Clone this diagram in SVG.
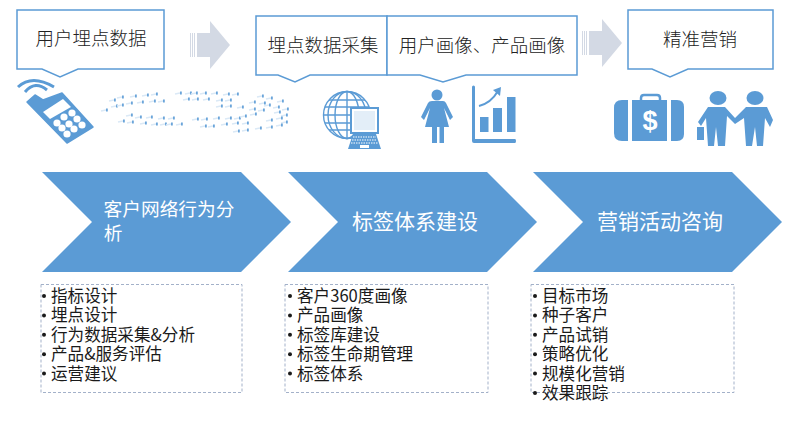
<svg xmlns="http://www.w3.org/2000/svg" xmlns:xlink="http://www.w3.org/1999/xlink" width="800" height="429" viewBox="0 0 800 429">
<style>
text{font-family:"Noto Sans CJK SC","Liberation Sans",sans-serif}
.call{fill:#fff;stroke:#5b9bd5;stroke-width:1.5}
.ct{font-size:18.5px;fill:#222;text-anchor:middle;font-weight:300}
.chev{fill:#5b9bd5}
.cht{fill:#fff;text-anchor:middle}
.dash{fill:#fff;stroke:#a3b1c9;stroke-width:1;stroke-dasharray:3 2}
.li{font-size:16.6px;fill:#1a1a1a}
.ic{fill:#5b9bd5}
.arr{fill:#d3d9e4}
.stripe{stroke:#d3d9e4;stroke-width:1}
.w{fill:#fff}
.gl{fill:none;stroke:#5b9bd5;stroke-width:1.4}
</style>
<defs>
<g id="nd"><path d="M-6 1 L-1 0" stroke="#dbe9f6" stroke-width="1.600" fill="none"/><rect x="-1" y="-1.500" width="1.800" height="3" fill="#6ba5da"/></g>
<g id="bigarrow"><path class="arr" d="M7 12H20V0L40 24L20 48V36H7Z"/><path class="stripe" d="M0.5 12V36M2.5 12V36M4.5 12V36"/></g>
<filter id="soft" x="-5%" y="-10%" width="110%" height="120%"><feGaussianBlur stdDeviation="0.4"/></filter>
</defs>

<g id="connectors">
<use href="#bigarrow" x="190" y="21"/>
<use href="#bigarrow" x="582" y="19"/>
</g>

<g id="node-user-data">
<path class="call" d="M17 10H164V69H78L60 77L42 69H17Z"/>
<text class="ct" x="91" y="45">用户埋点数据</text>
</g>
<g id="node-collect">
<path class="call" d="M256 16H387V75H310L295 82L278 75H256Z"/>
<text class="ct" x="323" y="52">埋点数据采集</text>
</g>
<g id="node-portrait">
<path class="call" d="M387 16H577V75H466L443 82L420 75H387Z"/>
<text class="ct" x="482" y="52">用户画像、产品画像</text>
</g>
<g id="node-marketing">
<path class="call" d="M628 10H773V69H688L670 77L652 69H628Z"/>
<text class="ct" x="700" y="46">精准营销</text>
</g>

<g id="icon-phone">
<path class="ic" d="M27 102L35 95L43 100L62 93L93 127L67 143Z" stroke="#5b9bd5" stroke-width="1.500" stroke-linejoin="round"/>
<path class="w" d="M43 112L63 99L71 107L50 119Z"/>
<g class="w"><circle cx="57" cy="123" r="3.600"/><circle cx="64" cy="117" r="3.600"/><circle cx="72" cy="113" r="3.600"/><circle cx="62" cy="128" r="3.600"/><circle cx="69" cy="124" r="3.600"/><circle cx="77" cy="119" r="3.600"/><circle cx="67" cy="134" r="3.600"/><circle cx="74" cy="129" r="3.600"/><circle cx="82" cy="125" r="3.600"/></g>
<path d="M18 87Q32 74 54 87" fill="none" stroke="#5b9bd5" stroke-width="3"/>
<path d="M25 92Q35 80 47 90" fill="none" stroke="#5b9bd5" stroke-width="3"/>
</g>

<g id="network" filter="url(#soft)">
<use href="#nd" x="115" y="100"/><use href="#nd" x="123" y="97"/><use href="#nd" x="136" y="96"/><use href="#nd" x="148" y="95"/><use href="#nd" x="157" y="94"/><use href="#nd" x="107" y="110"/><use href="#nd" x="117" y="106"/><use href="#nd" x="132" y="103"/><use href="#nd" x="123" y="105"/><use href="#nd" x="143" y="102"/><use href="#nd" x="155" y="101"/><use href="#nd" x="164" y="101"/><use href="#nd" x="181" y="93"/><use href="#nd" x="191" y="93"/><use href="#nd" x="197" y="93"/><use href="#nd" x="206" y="93"/><use href="#nd" x="217" y="93"/><use href="#nd" x="229" y="94"/><use href="#nd" x="238" y="94"/><use href="#nd" x="189" y="99"/><use href="#nd" x="198" y="99"/><use href="#nd" x="209" y="99"/><use href="#nd" x="222" y="100"/><use href="#nd" x="231" y="100"/><use href="#nd" x="222" y="106"/><use href="#nd" x="231" y="106"/><use href="#nd" x="243" y="107"/><use href="#nd" x="255" y="102"/><use href="#nd" x="265" y="103"/><use href="#nd" x="263" y="96"/><use href="#nd" x="272" y="98"/><use href="#nd" x="283" y="101"/><use href="#nd" x="270" y="105"/><use href="#nd" x="279" y="107"/><use href="#nd" x="255" y="109"/><use href="#nd" x="264" y="110"/><use href="#nd" x="288" y="109"/><use href="#nd" x="280" y="112"/><use href="#nd" x="287" y="115"/><use href="#nd" x="132" y="115"/><use href="#nd" x="141" y="117"/><use href="#nd" x="152" y="117"/><use href="#nd" x="164" y="118"/><use href="#nd" x="174" y="118"/><use href="#nd" x="124" y="121"/><use href="#nd" x="133" y="122"/><use href="#nd" x="146" y="123"/><use href="#nd" x="157" y="124"/><use href="#nd" x="166" y="124"/><use href="#nd" x="172" y="124"/><use href="#nd" x="182" y="124"/><use href="#nd" x="198" y="119"/><use href="#nd" x="207" y="119"/><use href="#nd" x="219" y="118"/><use href="#nd" x="231" y="118"/><use href="#nd" x="240" y="118"/><use href="#nd" x="246" y="116"/><use href="#nd" x="256" y="114"/><use href="#nd" x="248" y="123"/><use href="#nd" x="238" y="123"/><use href="#nd" x="227" y="124"/><use href="#nd" x="214" y="126"/><use href="#nd" x="206" y="126"/><use href="#nd" x="248" y="130"/><use href="#nd" x="239" y="131"/><use href="#nd" x="261" y="128"/><use href="#nd" x="272" y="120"/><use href="#nd" x="282" y="118"/><use href="#nd" x="287" y="122"/><use href="#nd" x="272" y="127"/><use href="#nd" x="282" y="125"/>
</g>

<g id="icon-globe">
<circle class="gl" cx="347" cy="115" r="23.500"/>
<ellipse class="gl" cx="347" cy="115" rx="12" ry="23.500"/>
<ellipse class="gl" cx="347" cy="115" rx="19" ry="23.500"/>
<path class="gl" d="M347 91.500V138.500M323.500 115H370.500M329 100H365M325 107H369M325 123H369M329 130H365"/>
<rect x="350" y="107" width="29" height="27" fill="#5b9bd5"/>
<rect x="352" y="109" width="25" height="23" fill="#fff"/>
<rect x="354" y="111" width="21" height="19" fill="#e3eef8"/>
<path class="ic" d="M353 134H376L381 149H348Z"/>
<path d="M353 137H376M352 140H377M351 143H378" stroke="#fff" stroke-width="1.200" stroke-dasharray="1.500 1" fill="none"/>
<rect class="w" x="360" y="145" width="9" height="3"/>
</g>

<g id="icon-woman">
<circle class="ic" cx="437" cy="95" r="5.500"/>
<path class="ic" d="M432 101H443Q445 101 446 103L453 117L450 120L444 108L449 127H444V143H439.500V127H437V143H432V127H425L430 108L424 120L421 117L428 103Q429 101 432 101Z"/>
</g>

<g id="icon-chart">
<path class="ic" d="M472 87Q472 85.500 473.500 85.500Q475 85.500 475 87V139H515Q516 139 516 141Q516 143 515 143H474Q472 143 472 141Z"/>
<rect class="ic" x="480" y="117" width="8.500" height="15"/>
<rect class="ic" x="493" y="108" width="9" height="24"/>
<rect class="ic" x="507" y="97" width="8.500" height="35"/>
<path d="M479 106Q491 103 498 91" fill="none" stroke="#5b9bd5" stroke-width="2"/>
<path class="ic" d="M493 90L501 87L500 96Z"/>
</g>

<g id="icon-case">
<path class="ic" d="M622 100H628V141H622Q614 141 614 133V108Q614 100 622 100Z"/>
<rect class="ic" x="632" y="100" width="35" height="41"/>
<path class="ic" d="M671 100H677Q684 100 684 107V134Q684 141 677 141H671Z"/>
<path d="M641 100V98Q641 95 644 95H657Q660 95 660 98V100" fill="none" stroke="#5b9bd5" stroke-width="2.500"/>
<text x="650" y="130" font-size="27" font-weight="700" fill="#fff" text-anchor="middle" style="font-family:'Liberation Sans',sans-serif">$</text>
</g>

<g id="icon-men">
<ellipse class="ic" cx="718" cy="98" rx="8.500" ry="7"/>
<ellipse class="ic" cx="755" cy="98" rx="8.500" ry="7"/>
<path class="ic" d="M708 107H725L735 118L746 107H767L773 120L770 127L765 118L763 146H757L755 127L752 146H746L744 118L735 124L727 116L725 146H718L716 127L714 146H708L706 118L701 126L698 122Z"/>
<rect class="ic" x="697" y="127" width="7" height="13"/>
</g>

<g id="node-analysis">
<path class="chev" d="M42 172H241L291 222L241 272H42L92 222Z"/>
<text class="cht" font-size="18.700" x="169" y="216">客户网络行为分</text>
<text class="cht" font-size="18.700" x="113" y="240">析</text>
</g>
<g id="node-tags">
<path class="chev" d="M288 172H487L537 222L487 272H288L338 222Z"/>
<text class="cht" font-size="21" x="415" y="229">标签体系建设</text>
</g>
<g id="node-consult">
<path class="chev" d="M533 172H732L782 222L732 272H533L583 222Z"/>
<text class="cht" font-size="21" x="660" y="229">营销活动咨询</text>
</g>

<g id="node-list-1">
<rect class="dash" x="41" y="284.500" width="201" height="108"/>
<g class="li"><text x="51" y="302">指标设计</text><text x="51" y="321.400">埋点设计</text><text x="51" y="340.800">行为数据采集&amp;分析</text><text x="51" y="360.200">产品&amp;服务评估</text><text x="51" y="379.600">运营建议</text></g>
<g fill="#1a1a1a"><circle cx="44" cy="296" r="2"/><circle cx="44" cy="315.400" r="2"/><circle cx="44" cy="334.800" r="2"/><circle cx="44" cy="354.200" r="2"/><circle cx="44" cy="373.600" r="2"/></g>
</g>
<g id="node-list-2">
<rect class="dash" x="285" y="284.500" width="203" height="108"/>
<g class="li"><text x="297" y="302">客户360度画像</text><text x="297" y="321.400">产品画像</text><text x="297" y="340.800">标签库建设</text><text x="297" y="360.200">标签生命期管理</text><text x="297" y="379.600">标签体系</text></g>
<g fill="#1a1a1a"><circle cx="290" cy="296" r="2"/><circle cx="290" cy="315.400" r="2"/><circle cx="290" cy="334.800" r="2"/><circle cx="290" cy="354.200" r="2"/><circle cx="290" cy="373.600" r="2"/></g>
</g>
<g id="node-list-3">
<rect class="dash" x="531" y="284.500" width="203" height="108"/>
<g class="li"><text x="542" y="302">目标市场</text><text x="542" y="321.400">种子客户</text><text x="542" y="340.800">产品试销</text><text x="542" y="360.200">策略优化</text><text x="542" y="379.600">规模化营销</text><text x="542" y="399">效果跟踪</text></g>
<g fill="#1a1a1a"><circle cx="535" cy="296" r="2"/><circle cx="535" cy="315.400" r="2"/><circle cx="535" cy="334.800" r="2"/><circle cx="535" cy="354.200" r="2"/><circle cx="535" cy="373.600" r="2"/><circle cx="535" cy="393" r="2"/></g>
</g>
</svg>
